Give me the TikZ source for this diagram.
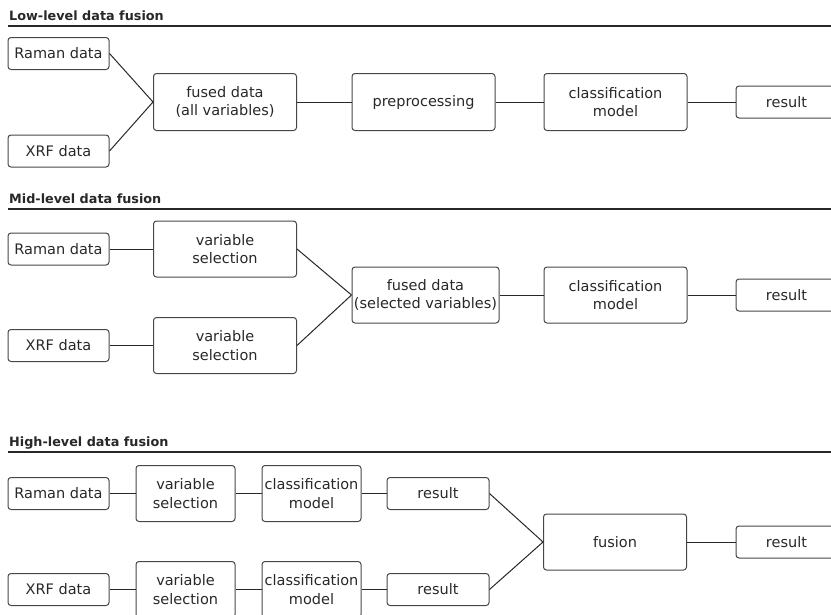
\documentclass[tikz,border=0pt]{standalone}
\usepackage{fontspec}
\setmainfont{DejaVu Sans}
\usepackage{tikz}

\definecolor{ink}{RGB}{40,40,40}
\definecolor{boxgray}{RGB}{70,70,70}

\begin{document}
\begin{tikzpicture}[x=1pt,y=-1pt,
    box/.style={draw=boxgray, line width=1pt, rounded corners=3pt, align=center,
      inner sep=1pt, text=ink, font=\fontsize{14.5}{18.5}\selectfont},
    wide/.style={box, minimum width=143pt, minimum height=57pt},
    small/.style={box, minimum width=101pt, minimum height=32pt},
    narrow/.style={box, minimum width=99pt, minimum height=56pt},
    link/.style={draw=ink, line width=1pt},
    title/.style={anchor=base west, inner sep=0pt, text=ink,
      font=\fontsize{12.8}{15}\selectfont\bfseries}]
    % Fix the page size
    \useasboundingbox (0,0) rectangle (831,614);
    \clip (0,0) rectangle (831,614);

    % Draw the section titles and rules
    \foreach \name/\y/\txt in {low/20/Low-level data fusion, mid/203/Mid-level data fusion, high/446/High-level data fusion} {
        \node[title] (\name) at (9,\y) {\txt};
        \draw[ink, line width=2pt] (8,\y+5.5) -- (831,\y+5.5);
    }

    % Low-level
    \node[small] (raman1) at (58.5,53.5) {Raman data};
    \node[small] (xrf1) at (58.5,151) {XRF data};
    \node[wide] (fused1) at (225,102) {fused data\\(all variables)};
    \node[wide] (pre1) at (423.5,102) {preprocessing};
    \node[wide] (cls1) at (615.5,102) {classification\\model};
    \node[small] (res1) at (786.5,102) {result};
    \draw[link] (raman1.east) -- (fused1.west);
    \draw[link] (xrf1.east) -- (fused1.west);
    \draw[link] (fused1) -- (pre1);
    \draw[link] (pre1) -- (cls1);
    \draw[link] (cls1) -- (res1);

    % Mid-level
    \node[small] (raman2) at (58.5,249) {Raman data};
    \node[small] (xrf2) at (58.5,345.5) {XRF data};
    \node[wide, minimum height=56pt] (sel2a) at (225,249) {variable\\selection};
    \node[wide, minimum height=56pt] (sel2b) at (225,345.5) {variable\\selection};
    \node[wide, minimum width=147pt, minimum height=56pt] (fused2) at (425.5,295) {fused data\\(selected variables)};
    \node[wide, minimum height=56pt] (cls2) at (615.5,295) {classification\\model};
    \node[small] (res2) at (786.5,295) {result};
    \draw[link] (raman2) -- (sel2a);
    \draw[link] (xrf2) -- (sel2b);
    \draw[link] (sel2a.east) -- (fused2.west);
    \draw[link] (sel2b.east) -- (fused2.west);
    \draw[link] (fused2) -- (cls2);
    \draw[link] (cls2) -- (res2);

    % High-level
    \node[small] (raman3) at (58.5,493.5) {Raman data};
    \node[small] (xrf3) at (58.5,589.5) {XRF data};
    \node[narrow] (sel3a) at (185.5,493.5) {variable\\selection};
    \node[narrow] (sel3b) at (185.5,589.5) {variable\\selection};
    \node[narrow] (cls3a) at (311.5,493.5) {classification\\model};
    \node[narrow] (cls3b) at (311.5,589.5) {classification\\model};
    \node[small, minimum width=102pt] (res3a) at (438,493.5) {result};
    \node[small, minimum width=102pt] (res3b) at (438,589.5) {result};
    \node[wide, minimum height=56pt] (fusion) at (615,542) {fusion};
    \node[small] (res3) at (786.5,542) {result};
    \draw[link] (raman3) -- (sel3a);
    \draw[link] (sel3a) -- (cls3a);
    \draw[link] (cls3a) -- (res3a);
    \draw[link] (xrf3) -- (sel3b);
    \draw[link] (sel3b) -- (cls3b);
    \draw[link] (cls3b) -- (res3b);
    \draw[link] (res3a.east) -- (fusion.west);
    \draw[link] (res3b.east) -- (fusion.west);
    \draw[link] (fusion) -- (res3);
\end{tikzpicture}
\end{document}
